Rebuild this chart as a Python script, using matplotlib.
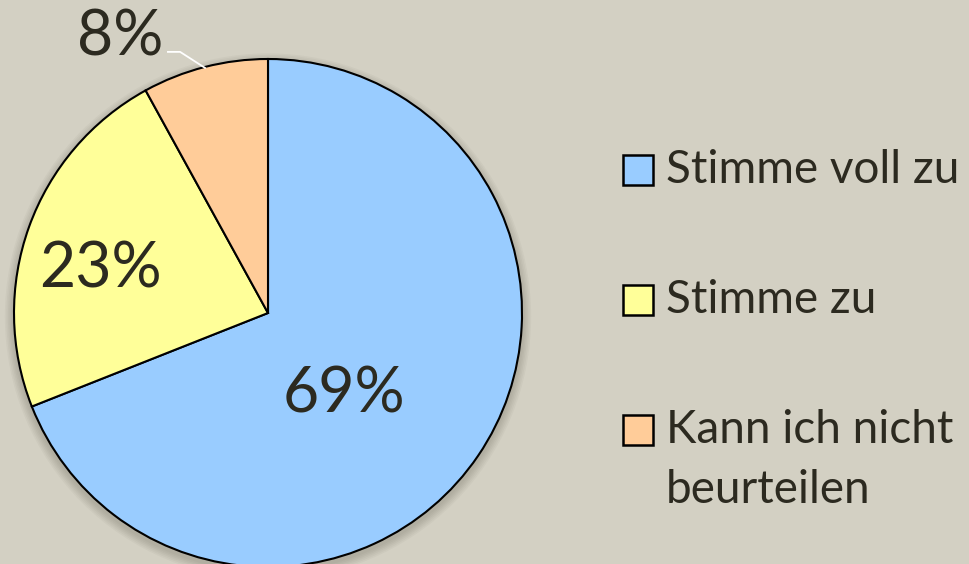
import matplotlib.pyplot as plt
from matplotlib.patches import Circle, Rectangle

# Data
labels = ['Stimme voll zu', 'Stimme zu', 'Kann ich nicht\nbeurteilen']
values = [69, 23, 8]
colors = ['#99ccff', '#ffff99', '#ffcc99']

bg = '#d3d0c3'
txt = '#2c2a20'
plt.rcParams['font.family'] = ['Lato', 'DejaVu Sans']

W, H = 969, 564
fig = plt.figure(figsize=(W/100, H/100), dpi=100, facecolor=bg)
# square axes holding the pie (centre ~ (268,313) px, radius ~254 px)
ax = fig.add_axes([14/W, -3/H, 508/W, 508/H])
ax.set_facecolor(bg)

# soft shadow under the pie
for i in range(6):
    ax.add_patch(Circle((0.0, -0.014), 1.0 + 0.006*(6-i), color='#4a473d', alpha=0.045,
                        lw=0, zorder=0, clip_on=False))

wedges, _, autotexts = ax.pie(values, colors=colors, startangle=90, counterclock=False,
                              autopct='%d%%', radius=1.0,
                              wedgeprops=dict(edgecolor='black', linewidth=1.5),
                              textprops=dict(color=txt, fontsize=45))
for w in wedges:
    w.set_zorder(2)

label_pos = [(0.30, -0.32), (-0.66, 0.17), (-0.58, 1.085)]
for t, p in zip(autotexts, label_pos):
    t.set_position(p)
    t.set_clip_on(False)
    t.set_zorder(5)

# leader line for the small slice
ax.plot([-0.394, -0.346, -0.248], [1.028, 1.028, 0.965], color='white', lw=1.3,
        clip_on=False, zorder=4)

ax.set_xlim(-1, 1)
ax.set_ylim(-1, 1)
ax.set_aspect('equal')
ax.axis('off')

# legend on the right (box + text, rows 130 px apart)
row_y = [170, 300, 430]
for lab, col, y in zip(labels, colors, row_y):
    fig.patches.append(Rectangle((623/W, 1 - (y + 15)/H), 30/W, 30/H, facecolor=col,
                                 edgecolor='black', lw=1.8, transform=fig.transFigure))
    for k, line in enumerate(lab.split('\n')):
        fig.text(666/W, 1 - (y + 60*k)/H, line, fontsize=33, color=txt,
                 ha='left', va='center')

plt.savefig('out.png', dpi=100, facecolor=bg)
